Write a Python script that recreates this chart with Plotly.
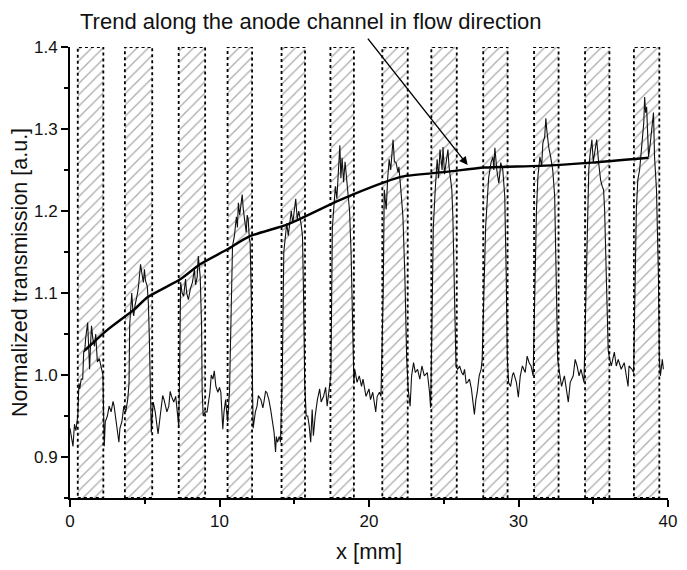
import plotly.graph_objects as go

# ---- data ----
rect_left = [0.52, 3.67, 7.27, 10.54, 14.15, 17.42, 20.89, 24.17, 27.64, 31.04, 34.45, 37.72]
rect_right = [2.23, 5.50, 9.04, 12.18, 15.72, 18.99, 22.59, 25.87, 29.27, 32.68, 36.08, 39.42]
rect_bottom = 0.85
rect_top = 1.40

sig_x = [
    0.0, 0.07, 0.2, 0.3, 0.39, 0.52, 0.6, 0.65, 0.75, 0.85, 0.92, 0.98, 1.05, 1.18, 1.25, 1.31,
    1.38, 1.44, 1.52, 1.64, 1.72, 1.83, 1.96, 2.1, 2.2, 2.29, 2.36, 2.5, 2.62, 2.75, 2.88, 2.95,
    3.08, 3.2, 3.27, 3.34, 3.47, 3.6, 3.73, 3.86, 3.95, 3.99, 4.13, 4.2, 4.26, 4.35, 4.45, 4.52,
    4.58, 4.65, 4.72, 4.8, 4.91, 4.98, 5.05, 5.17, 5.24, 5.3, 5.38, 5.44, 5.5, 5.57, 5.7, 5.76,
    5.89, 6.0, 6.09, 6.2, 6.29, 6.4, 6.48, 6.61, 6.7, 6.81, 6.94, 7.07, 7.15, 7.2, 7.27, 7.33,
    7.4, 7.5, 7.6, 7.73, 7.8, 7.92, 8.05, 8.19, 8.32, 8.4, 8.51, 8.58, 8.65, 8.71, 8.8, 8.84,
    8.91, 9.04, 9.17, 9.3, 9.36, 9.45, 9.56, 9.65, 9.76, 9.89, 10.0, 10.09, 10.15, 10.22, 10.3, 10.41,
    10.48, 10.54, 10.67, 10.8, 10.87, 11.0, 11.13, 11.2, 11.26, 11.35, 11.46, 11.52, 11.59, 11.7, 11.79, 11.85,
    11.92, 12.0, 12.05, 12.12, 12.18, 12.25, 12.31, 12.4, 12.51, 12.6, 12.77, 12.9, 12.97, 13.08, 13.16, 13.3,
    13.42, 13.56, 13.65, 13.75, 13.8, 13.88, 14.0, 14.08, 14.2, 14.3, 14.4, 14.5, 14.6, 14.7, 14.8, 14.9,
    15.0, 15.1, 15.2, 15.3, 15.45, 15.55, 15.62, 15.7, 15.8, 15.9, 16.0, 16.1, 16.2, 16.28, 16.4, 16.55,
    16.7, 16.8, 16.96, 17.1, 17.2, 17.3, 17.45, 17.55, 17.65, 17.75, 17.85, 17.95, 18.05, 18.12, 18.2, 18.3,
    18.4, 18.5, 18.6, 18.7, 18.8, 18.9, 18.99, 19.05, 19.2, 19.35, 19.5, 19.6, 19.8, 20.0, 20.1, 20.25,
    20.45, 20.55, 20.7, 20.8, 20.95, 21.02, 21.15, 21.25, 21.35, 21.45, 21.55, 21.61, 21.7, 21.81, 21.94, 22.0,
    22.13, 22.27, 22.4, 22.52, 22.62, 22.75, 22.85, 22.98, 23.1, 23.25, 23.4, 23.54, 23.7, 23.9, 24.05, 24.12,
    24.2, 24.3, 24.43, 24.56, 24.65, 24.75, 24.89, 24.95, 25.05, 25.15, 25.28, 25.35, 25.41, 25.54, 25.61, 25.72,
    25.82, 25.93, 26.06, 26.2, 26.3, 26.39, 26.5, 26.59, 26.72, 26.85, 26.95, 27.05, 27.15, 27.24, 27.37, 27.5,
    27.57, 27.7, 27.8, 27.9, 28.0, 28.16, 28.29, 28.35, 28.42, 28.55, 28.68, 28.75, 28.81, 28.95, 29.08, 29.18,
    29.25, 29.34, 29.47, 29.6, 29.67, 29.86, 29.99, 30.12, 30.26, 30.45, 30.58, 30.71, 30.84, 30.98, 31.1, 31.2,
    31.3, 31.43, 31.55, 31.63, 31.75, 31.83, 31.89, 31.95, 32.02, 32.15, 32.29, 32.42, 32.52, 32.62, 32.74, 32.88,
    33.07, 33.2, 33.33, 33.46, 33.66, 33.79, 33.92, 34.05, 34.18, 34.38, 34.5, 34.6, 34.7, 34.77, 34.91, 35.0,
    35.1, 35.23, 35.36, 35.49, 35.6, 35.69, 35.76, 35.88, 36.0, 36.1, 36.21, 36.41, 36.54, 36.67, 36.87, 37.07,
    37.2, 37.33, 37.39, 37.59, 37.7, 37.78, 37.88, 37.98, 38.1, 38.18, 38.3, 38.38, 38.44, 38.5, 38.57, 38.63,
    38.7, 38.8, 38.9, 39.03, 39.1, 39.23, 39.36, 39.42, 39.49, 39.62, 39.69,
]
sig_y = [
    0.935, 0.926, 0.913, 0.94, 0.932, 0.95, 0.99, 0.983, 0.995, 0.995, 1.03, 1.028, 1.045, 1.064, 1.03, 1.007,
    1.04, 1.06, 1.045, 1.035, 1.05, 1.016, 1.02, 1.01, 1.0, 0.913, 0.943, 0.95, 0.962, 0.955, 0.968, 0.962,
    0.946, 0.93, 0.918, 0.935, 0.943, 0.962, 0.955, 0.97, 0.99, 1.06, 1.1, 1.08, 1.072, 1.085, 1.092, 1.1,
    1.108, 1.12, 1.135, 1.125, 1.113, 1.129, 1.115, 1.108, 1.088, 1.05, 0.97, 0.93, 0.95, 0.967, 0.955, 0.946,
    0.928, 0.945, 0.962, 0.975, 0.97, 0.96, 0.955, 0.962, 0.98, 0.973, 0.967, 0.974, 0.96, 0.946, 0.938, 1.0,
    1.113, 1.1, 1.096, 1.117, 1.1, 1.092, 1.105, 1.113, 1.129, 1.11, 1.12, 1.145, 1.125, 1.12, 1.06, 0.98,
    0.95, 0.955, 0.955, 0.97, 0.979, 1.0, 0.995, 1.005, 0.986, 0.979, 0.985, 0.979, 0.95, 0.934, 0.955, 0.97,
    0.955, 0.943, 0.98, 1.12, 1.157, 1.17, 1.193, 1.18, 1.21, 1.195, 1.214, 1.22, 1.202, 1.185, 1.174, 1.195,
    1.19, 1.165, 1.162, 1.1, 0.98, 0.935, 0.943, 0.955, 0.962, 0.975, 0.97, 0.96, 0.967, 0.98, 0.979, 0.97,
    0.958, 0.943, 0.93, 0.906, 0.925, 0.918, 0.925, 0.918, 1.0, 1.15, 1.165, 1.185, 1.17, 1.19, 1.2, 1.185,
    1.205, 1.215, 1.19, 1.2, 1.185, 1.17, 1.1, 0.99, 0.95, 0.95, 0.938, 0.918, 0.958, 0.926, 0.95, 0.97,
    0.983, 0.967, 0.974, 0.985, 0.962, 0.975, 1.0, 1.18, 1.21, 1.23, 1.215, 1.25, 1.28, 1.24, 1.265, 1.235,
    1.26, 1.24, 1.22, 1.2, 1.15, 1.05, 0.99, 1.007, 0.991, 0.999, 0.986, 0.995, 0.974, 0.983, 0.97, 0.979,
    0.955, 0.974, 0.979, 0.974, 1.1, 1.226, 1.202, 1.24, 1.263, 1.25, 1.275, 1.287, 1.26, 1.259, 1.247, 1.254,
    1.226, 1.193, 1.12, 1.02, 0.983, 0.962, 0.999, 1.015, 1.003, 1.007, 0.995, 1.011, 0.999, 1.003, 0.979, 0.96,
    1.05, 1.18, 1.226, 1.263, 1.24, 1.275, 1.25, 1.278, 1.245, 1.259, 1.275, 1.255, 1.247, 1.226, 1.193, 1.1,
    1.01, 1.007, 1.011, 1.003, 1.0, 1.007, 0.99, 0.991, 0.995, 0.983, 0.97, 0.952, 0.97, 0.979, 0.999, 1.007,
    1.019, 1.1, 1.18, 1.21, 1.24, 1.259, 1.266, 1.25, 1.277, 1.25, 1.234, 1.245, 1.259, 1.25, 1.218, 1.12,
    1.02, 0.991, 0.986, 1.0, 1.003, 0.991, 0.973, 0.999, 1.011, 1.003, 1.023, 1.015, 1.011, 0.999, 1.1, 1.2,
    1.242, 1.266, 1.255, 1.283, 1.29, 1.313, 1.299, 1.285, 1.278, 1.266, 1.25, 1.218, 1.13, 1.02, 1.003, 0.986,
    0.999, 0.983, 0.967, 0.991, 0.999, 1.019, 1.011, 0.999, 1.007, 0.991, 1.1, 1.2, 1.25, 1.266, 1.287, 1.26,
    1.271, 1.287, 1.259, 1.238, 1.23, 1.226, 1.202, 1.13, 1.03, 1.019, 1.011, 1.028, 1.011, 1.019, 1.007, 1.015,
    0.999, 0.986, 1.011, 1.007, 1.003, 1.1, 1.2, 1.238, 1.25, 1.266, 1.29, 1.308, 1.339, 1.32, 1.327, 1.29,
    1.266, 1.28, 1.299, 1.32, 1.266, 1.226, 1.12, 1.02, 0.999, 1.019, 1.007,
]

trend_x = [1.0, 2.5, 4.3, 5.2, 7.4, 8.7, 10.5, 12.0, 14.6, 18.0, 21.0, 22.2, 25.3, 27.7, 31.4, 34.9, 38.7]
trend_y = [1.03, 1.055, 1.08, 1.095, 1.117, 1.135, 1.153, 1.169, 1.184, 1.213, 1.235, 1.242, 1.248, 1.253, 1.255, 1.259, 1.265]

arrow_tip = (26.6, 1.256)
title_text = "Trend along the anode channel in flow direction"
x_ticks = [0, 10, 20, 30, 40]
y_ticks = [0.9, 1.0, 1.1, 1.2, 1.3, 1.4]

FONT = "Liberation Sans, Arial, sans-serif"

fig = go.Figure()

# hatched channel rectangles
centers = [(l + r) / 2 for l, r in zip(rect_left, rect_right)]
widths = [r - l for l, r in zip(rect_left, rect_right)]
fig.add_trace(go.Bar(
    x=centers, y=[rect_top - rect_bottom] * len(centers), base=rect_bottom, width=widths,
    marker=dict(color="white", line=dict(width=0),
                pattern=dict(shape="/", fgcolor="#555555", bgcolor="white", size=8, solidity=0.16)),
    hoverinfo="skip", showlegend=False,
))

for l, r in zip(rect_left, rect_right):
    fig.add_shape(type="rect", xref="x", yref="y", x0=l, x1=r, y0=rect_bottom, y1=rect_top,
                  line=dict(color="black", width=1.8, dash="dot"), fillcolor="rgba(0,0,0,0)", layer="above")

# measured signal
fig.add_trace(go.Scatter(x=sig_x, y=sig_y, mode="lines",
                         line=dict(color="#111111", width=1.1), showlegend=False))
# trend line
fig.add_trace(go.Scatter(x=trend_x, y=trend_y, mode="lines", line_shape="spline",
                         line=dict(color="black", width=2.4, smoothing=0.6), showlegend=False))

fig.add_annotation(x=arrow_tip[0], y=arrow_tip[1], xref="x", yref="y", ax=-101, ay=-128,
                   axref="pixel", ayref="pixel", showarrow=True, text="",
                   arrowhead=2, arrowsize=1.2, arrowwidth=1.4, arrowcolor="black")
fig.add_annotation(x=0.403, y=1.056, xref="paper", yref="paper", text=title_text, showarrow=False,
                   font=dict(family=FONT, size=22, color="#111"), xanchor="center", yanchor="middle")

# the page body adds an 8px offset, so the figure is sized to fit the window
fig.update_layout(
    width=679, height=562,
    margin=dict(l=59, r=10, t=39, b=70),
    paper_bgcolor="white", plot_bgcolor="white",
    font=dict(family=FONT, size=17, color="#111"),
    barmode="overlay",
    xaxis=dict(range=[0, 40], tickvals=x_ticks, showgrid=False, zeroline=False,
               showline=True, linecolor="black", linewidth=2, ticks="outside", ticklen=7,
               tickwidth=1.5, tickcolor="black",
               minor=dict(ticks="outside", ticklen=4, dtick=5, tickcolor="black", tickwidth=1.5),
               title=dict(text="x [mm]", font=dict(size=22), standoff=13)),
    yaxis=dict(range=[0.85, 1.4], tickvals=y_ticks, tickformat=".1f", showgrid=False, zeroline=False,
               showline=True, linecolor="black", linewidth=2, ticks="outside", ticklen=7,
               tickwidth=1.5, tickcolor="black",
               minor=dict(ticks="outside", ticklen=4, dtick=0.05, tick0=0.85, tickcolor="black", tickwidth=1.5),
               title=dict(text="Normalized transmission [a.u.]", font=dict(size=21.5), standoff=1)),
)

fig.write_html("out.html")
